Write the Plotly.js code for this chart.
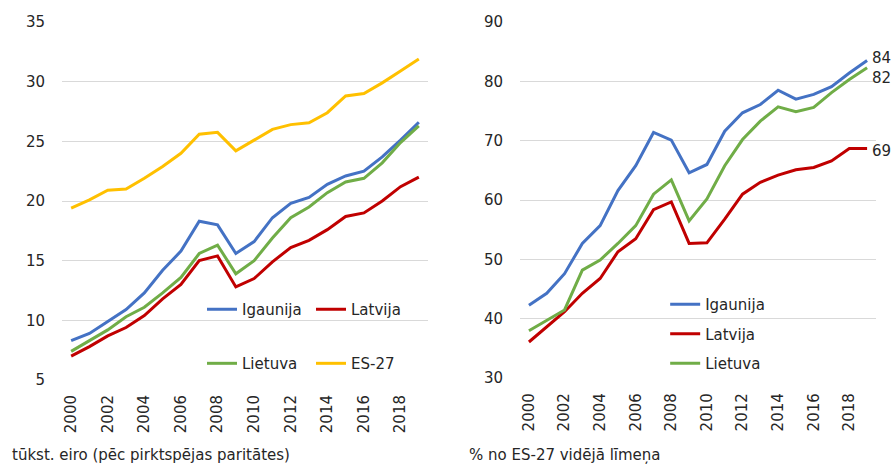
<!DOCTYPE html>
<html>
<head>
<meta charset="utf-8">
<script src="https://cdn.plot.ly/plotly-3.0.1.min.js"></script>
<style>
  body { margin: 0; background: #fff; }
  #plot { width: 891px; height: 465px; }
</style>
</head>
<body>
<div id="plot"></div>
<script>
// gadi
var years = [2000, 2001, 2002, 2003, 2004, 2005, 2006, 2007, 2008, 2009,
             2010, 2011, 2012, 2013, 2014, 2015, 2016, 2017, 2018, 2019];

// tūkst. eiro (PPS)
var eeAbs = [8.3, 8.9, 9.9, 10.9, 12.3, 14.2, 15.8, 18.3, 18.0, 15.6,
             16.6, 18.6, 19.8, 20.3, 21.4, 22.1, 22.5, 23.7, 25.1, 26.6];
var lvAbs = [7.0, 7.8, 8.7, 9.4, 10.4, 11.8, 13.0, 15.0, 15.4, 12.8,
             13.5, 14.9, 16.1, 16.7, 17.6, 18.7, 19.0, 20.0, 21.2, 22.0];
var ltAbs = [7.4, 8.3, 9.2, 10.3, 11.1, 12.3, 13.6, 15.6, 16.3, 13.9,
             15.0, 16.9, 18.6, 19.5, 20.7, 21.6, 21.9, 23.2, 24.9, 26.3];
var euAbs = [19.4, 20.1, 20.9, 21.0, 21.9, 22.9, 24.0, 25.6, 25.75, 24.2,
             25.1, 26.0, 26.4, 26.55, 27.4, 28.8, 29.0, 29.9, 30.9, 31.9];

// % no ES-27 vidējā līmeņa
var eePct = [42.3, 44.3, 47.6, 52.7, 55.7, 61.6, 65.8, 71.4, 70.1, 64.6,
             66.0, 71.6, 74.7, 76.1, 78.5, 77.0, 77.8, 79.1, 81.4, 83.5];
var lvPct = [36.1, 38.7, 41.2, 44.3, 46.8, 51.3, 53.5, 58.4, 59.7, 52.7,
             52.8, 56.8, 61.0, 63.0, 64.2, 65.1, 65.5, 66.6, 68.7, 68.7];
var ltPct = [38.0, 39.8, 41.5, 48.2, 49.9, 52.7, 55.7, 61.0, 63.4, 56.5,
             60.2, 65.8, 70.2, 73.3, 75.7, 74.9, 75.6, 78.1, 80.3, 82.3];

var names = ['Igaunija', 'Latvija', 'Lietuva', 'ES-27'];
var colors = ['#4472C4', '#C00000', '#70AD47', '#FFC000'];

var FONT = 'DejaVu Sans, Verdana, sans-serif';
var TXT = '#262626';

function line(y, i, xa, ya, leg, grp) {
    return {
        x: years, y: y, type: 'scatter', mode: 'lines',
        name: names[i], line: { color: colors[i], width: 3 },
        xaxis: xa, yaxis: ya, legend: leg, legendgroup: grp,
        hoverinfo: 'skip'
    };
}

var data = [
    line(eeAbs, 0, 'x', 'y', 'legend', 'a1'),
    line(lvAbs, 1, 'x', 'y', 'legend', 'a2'),
    line(ltAbs, 2, 'x', 'y', 'legend2', 'a3'),
    line(euAbs, 3, 'x', 'y', 'legend2', 'a4'),
    line(eePct, 0, 'x2', 'y2', 'legend3', 'b1'),
    line(lvPct, 1, 'x2', 'y2', 'legend3', 'b2'),
    line(ltPct, 2, 'x2', 'y2', 'legend3', 'b3')
];

var last = years.length - 1;
function endLabel(v, dy) {
    return {
        xref: 'x2', yref: 'y2', x: years[last], y: v[last],
        text: String(Math.round(v[last])), showarrow: false,
        xanchor: 'left', yanchor: 'middle', xshift: 3, yshift: dy,
        font: { family: FONT, size: 15, color: TXT }
    };
}

var xBase = {
    type: 'linear', range: [1999.5, 2019.5], tick0: 2000, dtick: 2,
    tickangle: -90, showgrid: false, zeroline: false, showline: false,
    ticks: '', tickfont: { family: FONT, size: 15, color: TXT },
    ticklabelstandoff: 11
};
function yAxis(range, dtick, dom, off) {
    return {
        range: range, dtick: dtick, domain: dom, showgrid: true,
        gridcolor: '#d9d9d9', gridwidth: 1, zeroline: false, showline: false,
        ticks: '', tickfont: { family: FONT, size: 15, color: TXT },
        ticklabelstandoff: off
    };
}
function legendAt(x, y, orient) {
    return {
        x: x, y: y, xanchor: 'left', yanchor: 'top', orientation: orient,
        bgcolor: 'rgba(0,0,0,0)', borderwidth: 0,
        font: { family: FONT, size: 15, color: TXT },
        entrywidth: 64, entrywidthmode: 'pixels',
        traceorder: 'grouped', tracegroupgap: 7
    };
}

var layout = {
    width: 891, height: 465,
    margin: { l: 62, r: 15, t: 22, b: 85 },
    paper_bgcolor: '#fff', plot_bgcolor: '#fff',
    font: { family: FONT, color: TXT },
    xaxis: Object.assign({ domain: [0, 0.4496], anchor: 'y' }, xBase),
    xaxis2: Object.assign({ domain: [0.5627, 1], anchor: 'y2' }, xBase),
    yaxis: Object.assign(yAxis([5, 35], 5, [0, 1], 16), { anchor: 'x' }),
    yaxis2: Object.assign(yAxis([30, 90], 10, [0.005, 1], 16), { anchor: 'x2' }),
    showlegend: true,
    legend: legendAt(0.172, 0.243, 'h'),
    legend2: legendAt(0.172, 0.092, 'h'),
    legend3: legendAt(0.741, 0.257, 'v'),
    annotations: [
        endLabel(eePct, 3),
        endLabel(ltPct, -10),
        endLabel(lvPct, -3),
        {
            xref: 'paper', yref: 'paper', x: -0.0639, y: -0.209,
            xanchor: 'left', yanchor: 'middle', showarrow: false,
            text: 'tūkst. eiro (pēc pirktspējas paritātes)',
            font: { family: FONT, size: 15, color: TXT }
        },
        {
            xref: 'paper', yref: 'paper', x: 0.4975, y: -0.209,
            xanchor: 'left', yanchor: 'middle', showarrow: false,
            text: '% no ES-27 vidējā līmeņa',
            font: { family: FONT, size: 15, color: TXT }
        }
    ]
};

Plotly.newPlot('plot', data, layout, { staticPlot: true });
</script>
</body>
</html>
